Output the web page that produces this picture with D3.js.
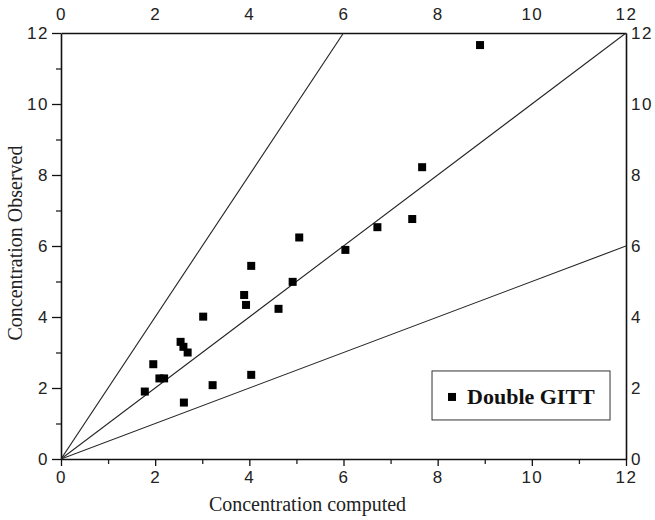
<!DOCTYPE html>
<html>
<head>
<meta charset="utf-8">
<script src="https://cdn.jsdelivr.net/npm/d3@7"></script>
<style>
  body { margin: 0; background: #fff; }
  .tick text { font-family: "Liberation Sans", Arial, sans-serif; font-size: 17px; letter-spacing: 1.5px; fill: #222; }
  .axis-title { font-family: "Liberation Serif", "Times New Roman", serif; font-size: 20px; fill: #222; }
</style>
</head>
<body>
<div id="chart"></div>
<script>
// Concentration computed vs observed (Double GITT)

let svgWidth = 655;
let svgHeight = 520;

let margin = { top: 33, right: 29, bottom: 61, left: 61 };

let width = svgWidth - margin.left - margin.right;
let height = svgHeight - margin.top - margin.bottom;

// data
let computed = [1.78, 1.96, 2.09, 2.19, 2.61, 2.54, 2.60, 2.69, 3.02, 3.22, 3.89,
                3.93, 4.04, 4.04, 4.62, 4.92, 5.06, 6.04, 6.72, 7.46, 7.67, 8.90];
let observed = [1.90, 2.67, 2.27, 2.27, 1.59, 3.30, 3.16, 3.00, 4.01, 2.08, 4.62,
                4.34, 5.44, 2.37, 4.23, 4.99, 6.24, 5.89, 6.53, 6.76, 8.22, 11.66];

// reference lines: observed = factor * computed
let lineFactors = [2, 1, 0.5];
let tickValues = [0, 2, 4, 6, 8, 10, 12];
let minorTicks = [1, 3, 5, 7, 9, 11];
let seriesName = "Double GITT";

let svg = d3.select("#chart")
    .append("svg")
    .attr("width", svgWidth)
    .attr("height", svgHeight);

let chartGroup = svg.append("g")
    .attr("transform", `translate(${margin.left},${margin.top})`);

let xScale = d3.scaleLinear().domain([0, 12]).range([0, width]);
let yScale = d3.scaleLinear().domain([0, 12]).range([height, 0]);

// minor ticks (bottom + left)
chartGroup.append("g")
    .attr("transform", `translate(0, ${height})`)
    .call(d3.axisBottom(xScale).tickValues(minorTicks).tickSize(5).tickFormat(""))
    .call(g => g.select(".domain").remove())
    .selectAll("line").attr("stroke", "#222").attr("stroke-width", 1.3);

chartGroup.append("g")
    .call(d3.axisLeft(yScale).tickValues(minorTicks).tickSize(5).tickFormat(""))
    .call(g => g.select(".domain").remove())
    .selectAll("line").attr("stroke", "#222").attr("stroke-width", 1.3);

// major axes
let bottomAxis = chartGroup.append("g")
    .attr("transform", `translate(0, ${height})`)
    .call(d3.axisBottom(xScale).tickValues(tickValues).tickSize(7).tickPadding(5).tickSizeOuter(0));

let leftAxis = chartGroup.append("g")
    .call(d3.axisLeft(yScale).tickValues(tickValues).tickSize(9).tickPadding(3).tickSizeOuter(0));

let topAxis = chartGroup.append("g")
    .call(d3.axisTop(xScale).tickValues(tickValues).tickSize(0).tickPadding(13).tickSizeOuter(0));

let rightAxis = chartGroup.append("g")
    .attr("transform", `translate(${width}, 0)`)
    .call(d3.axisRight(yScale).tickValues(tickValues).tickSize(0).tickPadding(5).tickSizeOuter(0));

[bottomAxis, leftAxis, topAxis, rightAxis].forEach(function(ax) {
    ax.select(".domain").attr("stroke", "#111").attr("stroke-width", 1.6);
    ax.selectAll("line").attr("stroke", "#111").attr("stroke-width", 1.3);
});

// reference lines, clipped to plot area
svg.append("clipPath").attr("id", "plotClip")
    .append("rect").attr("width", width).attr("height", height);

let lineGen = d3.line()
    .x(d => xScale(d[0]))
    .y(d => yScale(d[1]));

chartGroup.append("g")
    .attr("clip-path", "url(#plotClip)")
    .selectAll("path")
    .data(lineFactors)
    .enter()
    .append("path")
    .attr("d", f => lineGen([[0, 0], [Math.min(12, 12 / f), Math.min(12, 12 / f) * f]]))
    .attr("fill", "none")
    .attr("stroke", "#222")
    .attr("stroke-width", 1.1);

// points
let markerSize = 8;
chartGroup.selectAll("rect.pt")
    .data(computed)
    .enter()
    .append("rect")
    .attr("class", "pt")
    .attr("x", (d, i) => xScale(d) - markerSize / 2)
    .attr("y", (d, i) => yScale(observed[i]) - markerSize / 2)
    .attr("width", markerSize)
    .attr("height", markerSize)
    .attr("fill", "#000");

// legend
let legend = chartGroup.append("g")
    .attr("transform", `translate(${xScale(7.88)}, ${yScale(2.48)})`);

legend.append("rect")
    .attr("width", 178)
    .attr("height", 49)
    .attr("fill", "#fff")
    .attr("stroke", "#333")
    .attr("stroke-width", 1);

legend.append("rect")
    .attr("x", 16)
    .attr("y", 22)
    .attr("width", 8)
    .attr("height", 8)
    .attr("fill", "#000");

legend.append("text")
    .attr("x", 35)
    .attr("y", 33)
    .attr("font-family", "'Liberation Serif', 'Times New Roman', serif")
    .attr("font-weight", "bold")
    .attr("font-size", "22px")
    .attr("fill", "#111")
    .text(seriesName);

// axis titles
chartGroup.append("text")
    .attr("class", "axis-title")
    .attr("x", width / 2 - 36)
    .attr("y", height + 52)
    .attr("text-anchor", "middle")
    .text("Concentration computed");

chartGroup.append("text")
    .attr("class", "axis-title")
    .attr("transform", "rotate(-90)")
    .attr("x", -(height / 2) + 3)
    .attr("y", -39)
    .attr("text-anchor", "middle")
    .text("Concentration Observed");
</script>
</body>
</html>
